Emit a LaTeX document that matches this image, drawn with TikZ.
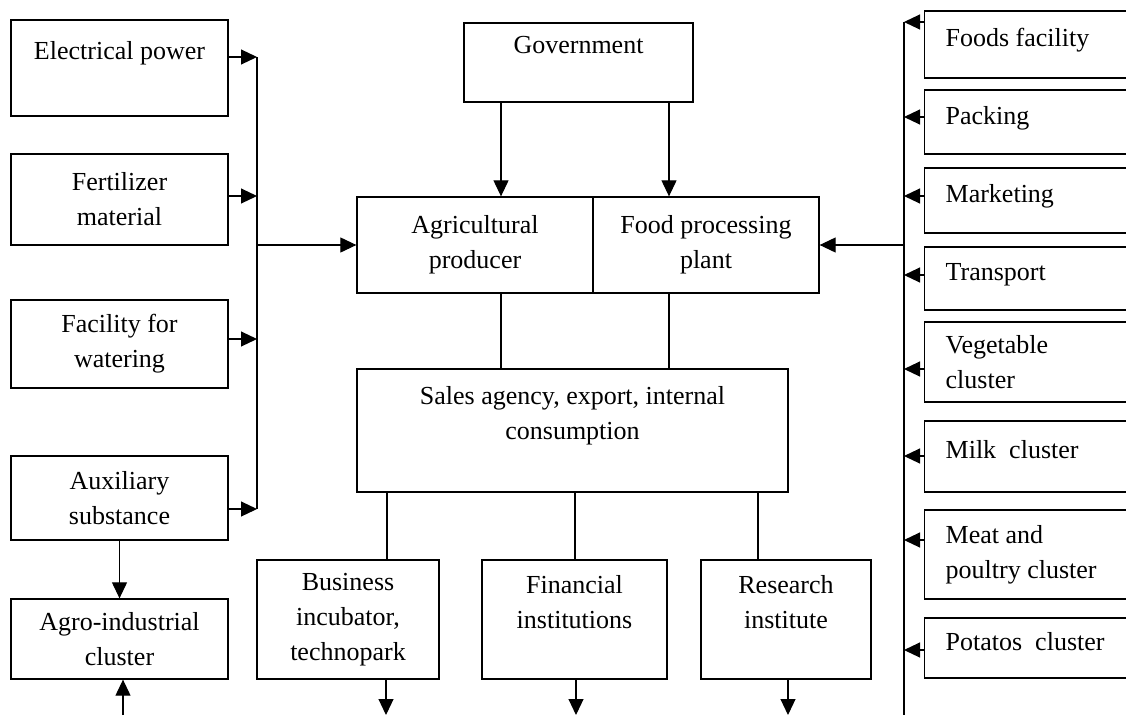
\documentclass[tikz,border=0pt]{standalone}
\usepackage{fontspec}
\setmainfont{Liberation Serif}
\usetikzlibrary{arrows.meta}

\tikzset{
    box/.style={draw, line width=1.3pt, inner sep=0pt, align=center,
        font=\fontsize{26}{35}\selectfont},
    sidebox/.style={box, anchor=west, minimum width=240pt, text width=198pt, align=flush left},
    oneline/.style={text depth=14pt},
    wire/.style={line width=1.1pt},
    arr/.style={wire, -{Triangle[length=16pt,width=15pt]}}
}

\begin{document}
\begin{tikzpicture}[x=1pt, y=-1pt]

    % Fix the frame of the picture
    \useasboundingbox (0,0) rectangle (1126,715);
    \clip (0,0) rectangle (1126,715);

    % Boxes on the left
    \node[box, minimum width=217pt, minimum height=96pt] (elec) at (119.5,68) {Electrical power\\ \mbox{}};
    \node[box, minimum width=217pt, minimum height=91pt] (fert) at (119.5,199.5) {Fertilizer\\material};
    \node[box, minimum width=217pt, minimum height=88pt] (water) at (119.5,344) {Facility for\\watering};
    \node[box, minimum width=217pt, minimum height=84pt] (aux) at (119.5,498) {Auxiliary\\substance};
    \node[box, minimum width=217pt, minimum height=80pt] (agro) at (119.5,639) {Agro-industrial\\cluster};

    % Boxes in the middle
    \node[box, minimum width=229pt, minimum height=79pt] (gov) at (578.5,62.5) {Government\\ \mbox{}};
    \node[box, minimum width=236pt, minimum height=96pt] (agri) at (475,245) {Agricultural\\producer};
    \node[box, minimum width=226pt, minimum height=96pt] (food) at (706,245) {Food processing\\plant};
    \node[box, minimum width=431pt, minimum height=123pt] (sales) at (572.5,430.5) {Sales agency, export, internal\\consumption\\ \mbox{}};
    \node[box, minimum width=182pt, minimum height=119pt] (busi) at (348,619.5) {Business\\incubator,\\technopark};
    \node[box, minimum width=185pt, minimum height=119pt] (fin) at (574.5,619.5) {Financial\\institutions\\ \mbox{}};
    \node[box, minimum width=170pt, minimum height=119pt] (res) at (786,619.5) {Research\\institute\\ \mbox{}};

    % Boxes on the right
    \node[sidebox, oneline, minimum height=67pt] (foods) at (924,44.5) {Foods facility};
    \node[sidebox, oneline, minimum height=64pt] (pack) at (924,122) {Packing};
    \node[sidebox, oneline, minimum height=65pt] (market) at (924,200.5) {Marketing};
    \node[sidebox, oneline, minimum height=63pt] (trans) at (924,278.5) {Transport};
    \node[sidebox, minimum height=80pt] (veg) at (924,362) {Vegetable\\cluster};
    \node[sidebox, oneline, minimum height=71pt] (milk) at (924,456.5) {Milk~ cluster};
    \node[sidebox, minimum height=89pt] (meat) at (924,554.5) {Meat and\\poultry cluster};
    \node[sidebox, oneline, minimum height=60pt] (potato) at (924,648) {Potatos~ cluster};

    % Points on the two buses
    \coordinate (l1) at (257,57);
    \coordinate (l2) at (257,196);
    \coordinate (l3) at (257,339);
    \coordinate (l4) at (257,509);
    \coordinate (lmid) at (257,245);
    \coordinate (r0) at (904,715);
    \coordinate (r1) at (904,22);
    \coordinate (r2) at (904,117);
    \coordinate (r3) at (904,196);
    \coordinate (r4) at (904,275);
    \coordinate (r5) at (904,369);
    \coordinate (r6) at (904,456);
    \coordinate (r7) at (904,540);
    \coordinate (r8) at (904,650);
    \coordinate (rmid) at (904,245);

    % Left bus
    \draw[wire] (l1) -- (l4);
    \draw[arr] (elec.east |- l1) -- (l1);
    \draw[arr] (fert.east |- l2) -- (l2);
    \draw[arr] (water.east |- l3) -- (l3);
    \draw[arr] (aux.east |- l4) -- (l4);
    \draw[arr] (lmid) -- (agri.west);

    % Right bus
    \draw[wire] (r1) -- (r0);
    \draw[arr] (foods.west |- r1) -- (r1);
    \draw[arr] (pack.west |- r2) -- (r2);
    \draw[arr] (market.west |- r3) -- (r3);
    \draw[arr] (trans.west |- r4) -- (r4);
    \draw[arr] (veg.west |- r5) -- (r5);
    \draw[arr] (milk.west |- r6) -- (r6);
    \draw[arr] (meat.west |- r7) -- (r7);
    \draw[arr] (potato.west |- r8) -- (r8);
    \draw[arr] (rmid) -- (food.east);

    % Government to producers, producers to sales
    \coordinate (ga) at (501,0);
    \coordinate (gb) at (669,0);
    \draw[arr] (gov.south -| ga) -- (agri.north -| ga);
    \draw[arr] (gov.south -| gb) -- (food.north -| gb);
    \draw[wire] (agri.south -| ga) -- (sales.north -| ga);
    \draw[wire] (food.south -| gb) -- (sales.north -| gb);

    % Sales to the three boxes below
    \draw[wire] (sales.south -| 387,0) -- (busi.north -| 387,0);
    \draw[wire] (sales.south -| 575,0) -- (fin.north -| 575,0);
    \draw[wire] (sales.south -| 758,0) -- (res.north -| 758,0);

    % Free arrows at the bottom
    \coordinate (o1) at (386,715);
    \coordinate (o2) at (576,715);
    \coordinate (o3) at (788,715);
    \coordinate (agin) at (123,715);
    \draw[arr] (busi.south -| o1) -- (o1);
    \draw[arr] (fin.south -| o2) -- (o2);
    \draw[arr] (res.south -| o3) -- (o3);
    \draw[arr] (aux.south) -- (agro.north);
    \draw[arr] (agin) -- (agro.south -| agin);

\end{tikzpicture}
\end{document}
